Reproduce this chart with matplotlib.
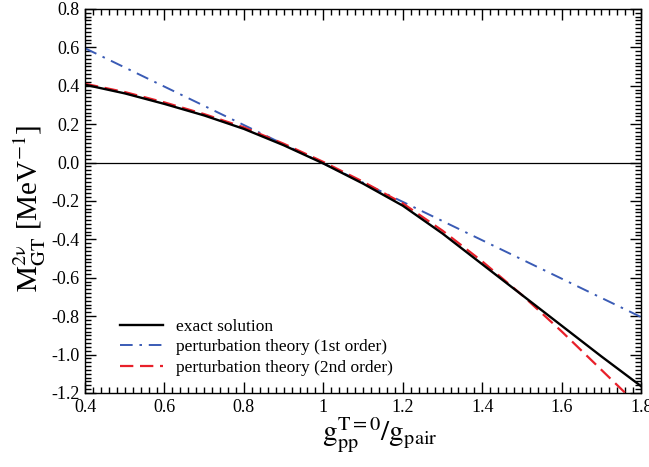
import matplotlib
matplotlib.use("Agg")
import matplotlib.pyplot as plt
from matplotlib.ticker import MultipleLocator, FuncFormatter

plt.rcParams['font.family'] = ['Liberation Serif', 'DejaVu Serif']
plt.rcParams['mathtext.fontset'] = 'stix'

# data
x_exact = [0.4, 0.5, 0.6, 0.7, 0.8, 0.9, 1.0, 1.1, 1.2, 1.3, 1.4, 1.5, 1.6, 1.7, 1.8]
y_exact = [0.405, 0.36, 0.305, 0.245, 0.175, 0.09, -0.005, -0.11, -0.225, -0.37, -0.53, -0.69, -0.85, -1.01, -1.165]

x_first = [0.4, 0.6, 0.8, 1.0, 1.2, 1.4, 1.6, 1.8]
y_first = [0.595, 0.395, 0.195, -0.005, -0.205, -0.405, -0.605, -0.805]

x_second = [0.4, 0.5, 0.6, 0.7, 0.8, 0.9, 1.0, 1.1, 1.2, 1.3, 1.4, 1.5, 1.6, 1.7, 1.76, 1.8]
y_second = [0.41, 0.367, 0.313, 0.252, 0.183, 0.098, 0.003, -0.10, -0.213, -0.355, -0.515, -0.69, -0.88, -1.08, -1.2, -1.29]

labels = ["exact solution", "perturbation theory (1st order)", "perturbation theory (2nd order)"]

fig = plt.figure(figsize=(6.49, 4.67), dpi=100)
ax = fig.add_axes([0.131, 0.1585, 0.857, 0.8225])

ax.axhline(0.0, color='black', lw=0.9, zorder=1)
ax.plot(x_exact, y_exact, color='black', lw=1.7, label=labels[0], zorder=3)
ax.plot(x_first, y_first, color='#3a5bb5', lw=1.4, ls=(0, (6.5, 3.5, 1.3, 3.5)), label=labels[1], zorder=2)
ax.plot(x_second, y_second, color='#e8202a', lw=1.6, ls=(0, (6, 3)), label=labels[2], zorder=2)

ax.set_xlim(0.4, 1.8)
ax.set_ylim(-1.2, 0.8)
ax.xaxis.set_major_locator(MultipleLocator(0.2))
ax.xaxis.set_minor_locator(MultipleLocator(0.02))
ax.yaxis.set_major_locator(MultipleLocator(0.2))
ax.yaxis.set_minor_locator(MultipleLocator(0.02))

def xfmt(v, pos):
    if abs(v - round(v)) < 1e-9:
        return "%d" % round(v)
    return "%.1f" % v

def yfmt(v, pos):
    s = "%.1f" % v
    if s == "-0.0":
        s = "0.0"
    return s

ax.xaxis.set_major_formatter(FuncFormatter(xfmt))
ax.yaxis.set_major_formatter(FuncFormatter(yfmt))

ax.tick_params(which='both', direction='in', top=True, right=True, labelsize=13, color='black')
ax.tick_params(which='major', length=8, width=1.0, pad=4)
ax.tick_params(which='minor', length=4.5, width=1.0)
for sp in ax.spines.values():
    sp.set_linewidth(1.0)

ax.set_xlabel(r'$\mathrm{g_{pp}^{T=0}/g_{pair}}$', fontsize=21, labelpad=0)
ax.set_ylabel(r'$\mathrm{M_{GT}^{2\nu}}$ [MeV$^{\mathrm{-1}}$]', fontsize=21, labelpad=2)
ax.xaxis.label.set_x(0.53)
ax.yaxis.label.set_y(0.48)

leg = ax.legend(loc='lower left', bbox_to_anchor=(0.063, 0.045), frameon=False, fontsize=12.5,
                handlelength=2.5, labelspacing=0.25, handletextpad=0.7,
                borderpad=0, borderaxespad=0)

fig.savefig("out.png", dpi=100)
